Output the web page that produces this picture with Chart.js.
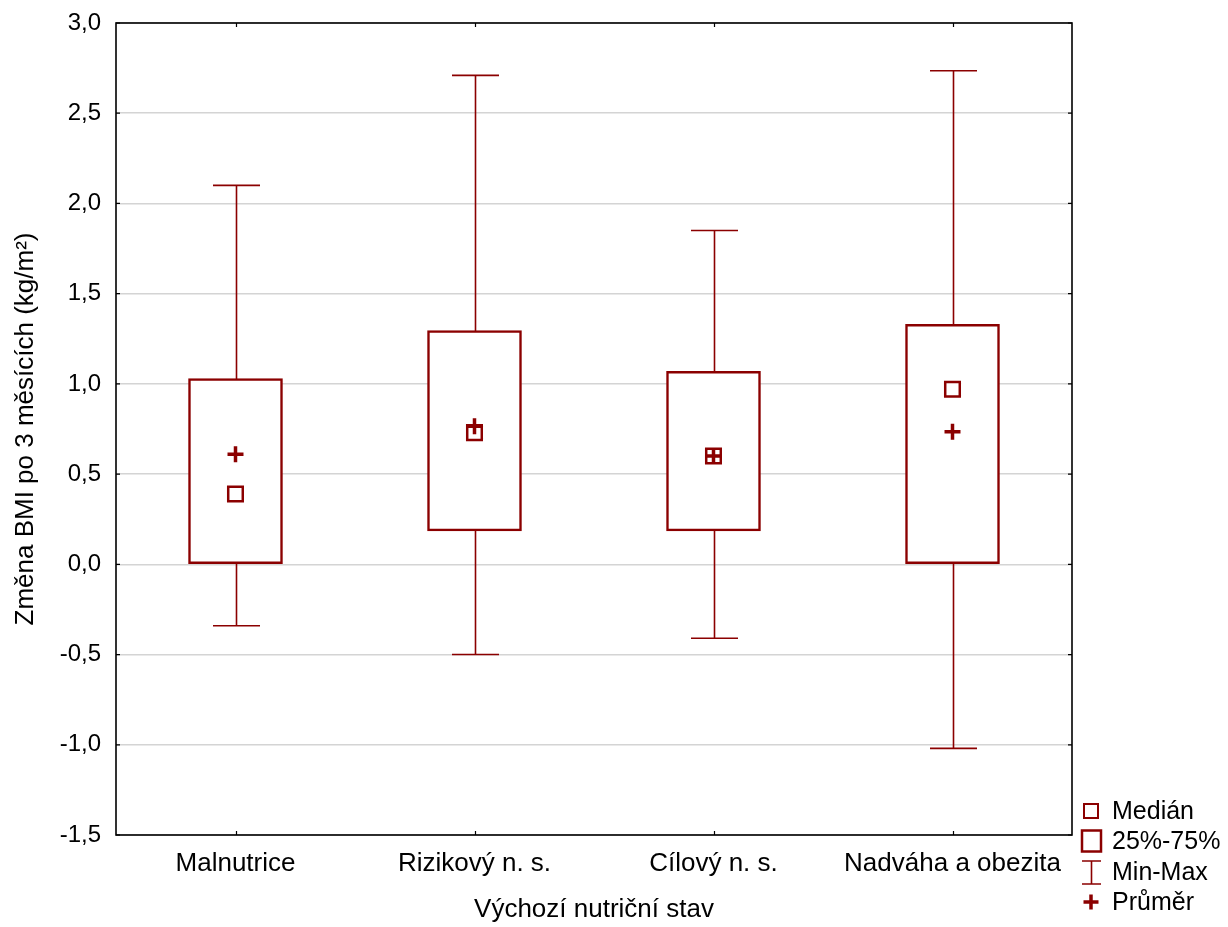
<!DOCTYPE html>
<html><head><meta charset="utf-8">
<script src="https://cdn.jsdelivr.net/npm/chart.js@4/dist/chart.umd.min.js"></script>
<style>html,body{margin:0;padding:0;background:#fff}#wrap{width:1228px;height:927px;position:relative}</style>
</head><body><div id="wrap"><canvas id="c" width="1228" height="927"></canvas></div>
<script>
const categories = ['Malnutrice', 'Rizikový n. s.', 'Cílový n. s.', 'Nadváha a obezita'];
const minValues    = [-0.34, -0.50, -0.41, -1.02];
const q1Values     = [0.00, 0.185, 0.185, 0.00];
const medianValues = [0.39, 0.73, 0.60, 0.97];
const meanValues   = [0.61, 0.765, 0.60, 0.735];
const q3Values     = [1.03, 1.295, 1.07, 1.33];
const maxValues    = [2.10, 2.71, 1.85, 2.735];
const yTickValues  = [-1.5, -1.0, -0.5, 0.0, 0.5, 1.0, 1.5, 2.0, 2.5, 3.0];
const legendLabels = ['Medián', '25%-75%', 'Min-Max', 'Průměr'];
const yTitle = 'Změna BMI po 3 měsících (kg/m²)';
const xTitle = 'Výchozí nutriční stav';

const DR = '#8B0000';
const FONT = '"Liberation Sans", Arial, sans-serif';
Chart.defaults.font.family = FONT;
Chart.defaults.color = '#000';

const whiskerPlugin = {
  id: 'whiskers',
  beforeDatasetsDraw(chart) {
    const ctx = chart.ctx, xs = chart.scales.x, ys = chart.scales.y;
    ctx.save();
    ctx.strokeStyle = DR;
    ctx.lineWidth = 1.6;
    categories.forEach((c, i) => {
      const x = Math.round(xs.getPixelForValue(i)) + 0.5;
      const yMin = ys.getPixelForValue(minValues[i]);
      const yMax = ys.getPixelForValue(maxValues[i]);
      ctx.beginPath();
      ctx.moveTo(x, yMin); ctx.lineTo(x, yMax);
      ctx.moveTo(x - 23.5, yMin); ctx.lineTo(x + 23.5, yMin);
      ctx.moveTo(x - 23.5, yMax); ctx.lineTo(x + 23.5, yMax);
      ctx.stroke();
    });
    ctx.restore();
  }
};

const framePlugin = {
  id: 'frame',
  afterDraw(chart) {
    const ctx = chart.ctx, a = chart.chartArea, xs = chart.scales.x, ys = chart.scales.y;
    ctx.save();
    ctx.strokeStyle = '#000';
    ctx.lineWidth = 1.6;
    ctx.strokeRect(a.left, a.top, a.right - a.left, a.bottom - a.top);
    ctx.lineWidth = 1.2;
    ctx.beginPath();
    categories.forEach((c, i) => {
      const x = Math.round(xs.getPixelForValue(i)) + 0.5;
      ctx.moveTo(x, a.top); ctx.lineTo(x, a.top + 4);
      ctx.moveTo(x, a.bottom); ctx.lineTo(x, a.bottom - 4);
    });
    yTickValues.forEach(v => {
      const y = ys.getPixelForValue(v);
      ctx.moveTo(a.left, y); ctx.lineTo(a.left + 4, y);
      ctx.moveTo(a.right, y); ctx.lineTo(a.right - 4, y);
    });
    ctx.stroke();

    // legend
    const lx = 1091, tx = 1112;
    const rows = [811, 841, 872, 902];
    ctx.strokeStyle = DR;
    ctx.lineWidth = 2;
    ctx.strokeRect(lx - 7, rows[0] - 7, 14, 14);
    ctx.lineWidth = 2.5;
    ctx.strokeRect(lx - 9, rows[1] - 10.5, 19, 21);
    ctx.lineWidth = 1.6;
    ctx.beginPath();
    ctx.moveTo(lx - 9, rows[2] - 11); ctx.lineTo(lx + 10, rows[2] - 11);
    ctx.moveTo(lx + 0.5, rows[2] - 11); ctx.lineTo(lx + 0.5, rows[2] + 12);
    ctx.moveTo(lx - 9, rows[2] + 12); ctx.lineTo(lx + 10, rows[2] + 12);
    ctx.stroke();
    ctx.lineWidth = 3.5;
    ctx.beginPath();
    ctx.moveTo(lx - 7.5, rows[3]); ctx.lineTo(lx + 7.5, rows[3]);
    ctx.moveTo(lx, rows[3] - 7.5); ctx.lineTo(lx, rows[3] + 7.5);
    ctx.stroke();
    ctx.fillStyle = '#000';
    ctx.font = '25px ' + FONT;
    ctx.textBaseline = 'middle';
    ctx.textAlign = 'left';
    legendLabels.forEach((t, i) => ctx.fillText(t, tx, rows[i] + 1));
    ctx.restore();
  }
};

new Chart(document.getElementById('c'), {
  data: {
    labels: categories,
    datasets: [
      {
        type: 'line', label: legendLabels[3], data: meanValues, showLine: false, order: 0,
        pointStyle: 'cross', pointRadius: 8, pointBorderWidth: 3.5, pointBorderColor: DR, borderColor: DR
      },
      {
        type: 'line', label: legendLabels[0], data: medianValues, showLine: false, order: 1,
        pointStyle: 'rect', pointRadius: 10.3, pointBorderWidth: 2.5, pointBorderColor: DR,
        pointBackgroundColor: 'rgba(255,255,255,0)', borderColor: DR
      },
      {
        type: 'bar', label: legendLabels[1], order: 2,
        data: categories.map((c, i) => [q1Values[i], q3Values[i]]),
        backgroundColor: '#fff', borderColor: DR, borderWidth: 2.5, borderSkipped: false,
        barThickness: 94
      }
    ]
  },
  options: {
    responsive: false,
    animation: false,
    events: [],
    layout: { padding: { top: 23, right: 156, bottom: 0, left: 0 } },
    plugins: { legend: { display: false }, tooltip: { enabled: false } },
    scales: {
      x: {
        type: 'category', offset: true,
        grid: { display: false, drawTicks: false },
        border: { display: false },
        ticks: { padding: 13, font: { size: 26 }, color: '#000', maxRotation: 0 },
        title: { display: true, text: xTitle, font: { size: 26 }, color: '#000', padding: { top: 0, bottom: 2 } },
        afterFit(s) { s.height = 92; s.paddingLeft = 0; s.paddingRight = 0; }
      },
      y: {
        min: -1.5, max: 3.0,
        afterBuildTicks(s) { s.ticks = yTickValues.map(v => ({ value: v })); },
        grid: { color: '#d4d4d4', lineWidth: 1.5, drawTicks: false },
        border: { display: false },
        ticks: {
          padding: 15, font: { size: 24 }, color: '#000',
          callback: v => Number(v).toFixed(1).replace('.', ',')
        },
        title: { display: true, text: yTitle, font: { size: 26 }, color: '#000', padding: { top: 10, bottom: 0 } },
        afterFit(s) { s.width = 116; s.paddingTop = 0; s.paddingBottom = 0; }
      }
    }
  },
  plugins: [whiskerPlugin, framePlugin]
});
</script>
</body></html>
